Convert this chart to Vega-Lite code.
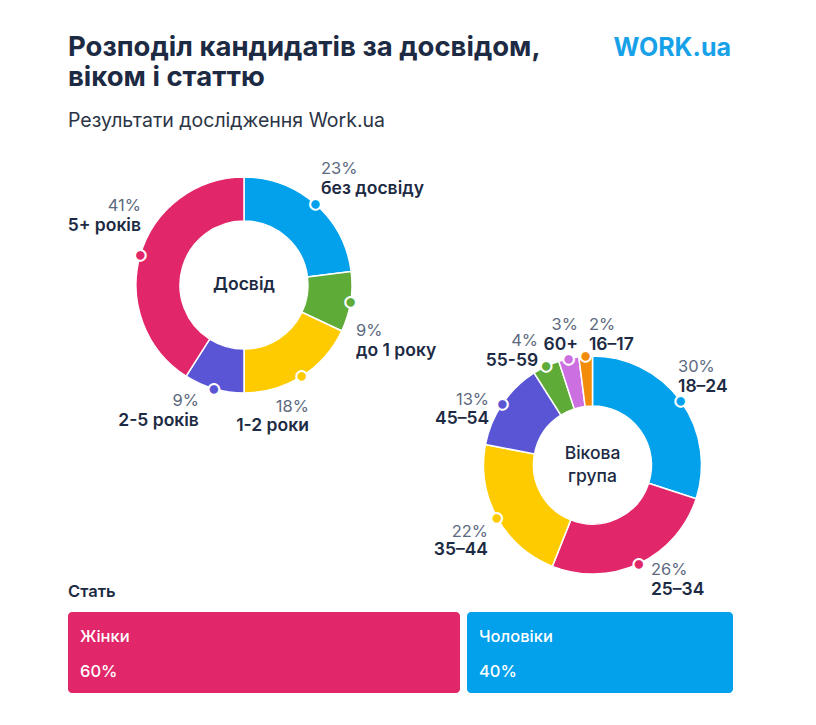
{
  "$schema": "https://vega.github.io/schema/vega-lite/v6.json",
  "padding": {"left": 67, "top": 33, "right": 10, "bottom": 10},
  "background": "#ffffff",
  "config": {"view": {"stroke": null}, "font": "Inter"},
  "spacing": -16,
  "resolve": {"scale": {"color": "independent", "theta": "independent", "x": "independent"}},
  "vconcat": [
    {
      "bounds": "flush",
      "spacing": 0,
      "resolve": {"scale": {"color": "independent", "theta": "independent"}},
      "hconcat": [
        {
          "width": 352,
          "height": 240,
          "title": {
            "text": ["Розподіл кандидатів за досвідом,", "віком і статтю"],
            "subtitle": "Результати дослідження Work.ua",
            "anchor": "start",
            "frame": "group",
            "fontSize": 27.5,
            "fontWeight": "bold",
            "color": "#1d2a43",
            "lineHeight": 30,
            "subtitleFontSize": 19.5,
            "subtitleColor": "#2b3445",
            "subtitleFontWeight": "normal",
            "subtitlePadding": 21,
            "offset": 30
          },
          "data": {
            "values": [
              {"i": 1, "cat": "без досвіду", "share": 0.23},
              {"i": 2, "cat": "до 1 року", "share": 0.09},
              {"i": 3, "cat": "1-2 роки", "share": 0.18},
              {"i": 4, "cat": "2-5 років", "share": 0.09},
              {"i": 5, "cat": "5+ років", "share": 0.41}
            ]
          },
          "layer": [
            {
              "mark": {"type": "arc", "innerRadius": 64, "outerRadius": 108, "stroke": "#ffffff", "strokeWidth": 1.5},
              "encoding": {
                "theta": {"field": "share", "type": "quantitative", "stack": true},
                "order": {"field": "i", "type": "quantitative"},
                "color": {
                  "field": "cat", "type": "nominal", "legend": null,
                  "scale": {
                    "domain": ["без досвіду", "до 1 року", "1-2 роки", "2-5 років", "5+ років"],
                    "range": ["#03a0ec", "#5eab38", "#fecb00", "#5a55d5", "#e2266a"]
                  }
                }
              }
            },
            {
              "mark": {"type": "text", "text": "●", "font": "DejaVu Sans", "radius": 108, "fontSize": 14, "stroke": "#ffffff", "strokeWidth": 2, "align": "center", "baseline": "middle"},
              "encoding": {
                "theta": {"field": "share", "type": "quantitative", "stack": true},
                "order": {"field": "i", "type": "quantitative"},
                "color": {"field": "cat", "type": "nominal", "legend": null}
              }
            },
            {
              "mark": {
                "type": "text", "radius": 108, "fontSize": 16.5, "color": "#5d6980", "baseline": "alphabetic",
                "align": {"expr": "indexof(['без досвіду','до 1 року'], datum.cat) >= 0 ? 'left' : 'right'"},
                "dx": {"expr": "{'без досвіду': 5.6, 'до 1 року': 5.3, '1-2 роки': 7, '2-5 років': -15, '5+ років': 0.7}[datum.cat]"},
                "dy": {"expr": "{'без досвіду': -30, 'до 1 року': 34, '1-2 роки': 36, '2-5 років': 17, '5+ років': -44}[datum.cat]"}
              },
              "encoding": {
                "theta": {"field": "share", "type": "quantitative", "stack": true},
                "order": {"field": "i", "type": "quantitative"},
                "detail": {"field": "cat", "type": "nominal"},
                "text": {"field": "share", "type": "quantitative", "format": ".0%"}
              }
            },
            {
              "mark": {
                "type": "text", "radius": 108, "fontSize": 17.5, "fontWeight": 600, "color": "#1d2a43", "baseline": "alphabetic",
                "align": {"expr": "indexof(['без досвіду','до 1 року'], datum.cat) >= 0 ? 'left' : 'right'"},
                "dx": {"expr": "{'без досвіду': 5.6, 'до 1 року': 5.3, '1-2 роки': 7, '2-5 років': -15, '5+ років': 0.7}[datum.cat]"},
                "dy": {"expr": "{'без досвіду': -10, 'до 1 року': 54, '1-2 роки': 55, '2-5 років': 37, '5+ років': -24}[datum.cat]"}
              },
              "encoding": {
                "theta": {"field": "share", "type": "quantitative", "stack": true},
                "order": {"field": "i", "type": "quantitative"},
                "detail": {"field": "cat", "type": "nominal"},
                "text": {"field": "cat", "type": "nominal"}
              }
            },
            {
              "data": {"values": [{"t": "Досвід"}]},
              "mark": {"type": "text", "fontSize": 17.5, "fontWeight": 600, "color": "#1d2a43", "baseline": "middle", "align": "center"},
              "encoding": {"text": {"field": "t", "type": "nominal"}}
            }
          ]
        },
        {
          "bounds": "flush",
          "spacing": 0,
          "resolve": {"scale": {"color": "independent", "theta": "independent"}},
          "vconcat": [
            {
              "width": 311,
              "height": 180,
              "title": {
                "text": "WORK.ua",
                "anchor": "end",
                "fontSize": 25,
                "fontWeight": "bold",
                "color": "#17a1e8",
                "offset": 104
              },
              "data": {"values": []},
              "mark": "point"
            },
            {
              "width": 345,
              "height": 240,
              "data": {
                "values": [
                  {"i": 1, "cat": "18–24", "share": 0.30},
                  {"i": 2, "cat": "25–34", "share": 0.26},
                  {"i": 3, "cat": "35–44", "share": 0.22},
                  {"i": 4, "cat": "45–54", "share": 0.13},
                  {"i": 5, "cat": "55-59", "share": 0.04},
                  {"i": 6, "cat": "60+", "share": 0.03},
                  {"i": 7, "cat": "16–17", "share": 0.02}
                ]
              },
              "layer": [
                {
                  "mark": {"type": "arc", "innerRadius": 59, "outerRadius": 109, "stroke": "#ffffff", "strokeWidth": 1.5},
                  "encoding": {
                    "theta": {"field": "share", "type": "quantitative", "stack": true},
                    "order": {"field": "i", "type": "quantitative"},
                    "color": {
                      "field": "cat", "type": "nominal", "legend": null,
                      "scale": {
                        "domain": ["18–24", "25–34", "35–44", "45–54", "55-59", "60+", "16–17"],
                        "range": ["#03a0ec", "#e2266a", "#fecb00", "#5a55d5", "#5eab38", "#cc6fe0", "#f28c0a"]
                      }
                    }
                  }
                },
                {
                  "mark": {"type": "text", "text": "●", "font": "DejaVu Sans", "radius": 109, "fontSize": 14, "stroke": "#ffffff", "strokeWidth": 2, "align": "center", "baseline": "middle"},
                  "encoding": {
                    "theta": {"field": "share", "type": "quantitative", "stack": true},
                    "order": {"field": "i", "type": "quantitative"},
                    "color": {"field": "cat", "type": "nominal", "legend": null}
                  }
                },
                {
                  "mark": {
                    "type": "text", "radius": 109, "fontSize": 16.5, "color": "#5d6980", "baseline": "alphabetic",
                    "align": {"expr": "indexof(['18–24','16–17','25–34'], datum.cat) >= 0 ? 'left' : 'right'"},
                    "dx": {"expr": "{'18–24': -2.7, '16–17': 3.3, '60+': 9.3, '55-59': -8, '45–54': -13.3, '35–44': -9, '25–34': 12}[datum.cat]"},
                    "dy": {"expr": "{'18–24': -29.4, '16–17': -26.7, '60+': -29, '55-59': -20, '45–54': 1, '35–44': 19, '25–34': 11}[datum.cat]"}
                  },
                  "encoding": {
                    "theta": {"field": "share", "type": "quantitative", "stack": true},
                    "order": {"field": "i", "type": "quantitative"},
                    "detail": {"field": "cat", "type": "nominal"},
                    "text": {"field": "share", "type": "quantitative", "format": ".0%"}
                  }
                },
                {
                  "mark": {
                    "type": "text", "radius": 109, "fontSize": 17.5, "fontWeight": 600, "color": "#1d2a43", "baseline": "alphabetic",
                    "align": {"expr": "indexof(['18–24','16–17','25–34'], datum.cat) >= 0 ? 'left' : 'right'"},
                    "dx": {"expr": "{'18–24': -2.7, '16–17': 3.3, '60+': 9.3, '55-59': -8, '45–54': -13.3, '35–44': -9, '25–34': 12}[datum.cat]"},
                    "dy": {"expr": "{'18–24': -9.4, '16–17': -6.7, '60+': -9, '55-59': 0, '45–54': 20, '35–44': 37, '25–34': 31}[datum.cat]"}
                  },
                  "encoding": {
                    "theta": {"field": "share", "type": "quantitative", "stack": true},
                    "order": {"field": "i", "type": "quantitative"},
                    "detail": {"field": "cat", "type": "nominal"},
                    "text": {"field": "cat", "type": "nominal"}
                  }
                },
                {
                  "data": {"values": [{"t": ["Вікова", "група"]}]},
                  "mark": {"type": "text", "fontSize": 17.5, "fontWeight": 500, "color": "#1d2a43", "baseline": "middle", "align": "center", "lineHeight": 23, "dy": -11},
                  "encoding": {"text": {"field": "t", "type": "nominal"}}
                }
              ]
            }
          ]
        }
      ]
    },
    {
      "width": 665,
      "height": 81,
      "title": {
        "text": "Стать",
        "anchor": "start",
        "fontSize": 16.5,
        "fontWeight": 600,
        "color": "#1d2a43",
        "offset": 12
      },
      "data": {
        "values": [
          {"i": 1, "sex": "Жінки", "share": 0.6},
          {"i": 2, "sex": "Чоловіки", "share": 0.4}
        ]
      },
      "transform": [
        {"stack": "share", "groupby": [], "as": ["s0", "s1"], "sort": [{"field": "i", "order": "ascending"}]}
      ],
      "layer": [
        {
          "mark": {"type": "rect", "cornerRadius": 4, "x2Offset": {"expr": "datum.sex == 'Жінки' ? -7 : 0"}},
          "encoding": {
            "x": {"field": "s0", "type": "quantitative", "scale": {"domain": [0, 1]}, "axis": null},
            "x2": {"field": "s1"},
            "color": {
              "field": "sex", "type": "nominal", "legend": null,
              "scale": {"domain": ["Жінки", "Чоловіки"], "range": ["#e2266a", "#03a0ec"]}
            }
          }
        },
        {
          "mark": {"type": "text", "align": "left", "baseline": "alphabetic", "dx": 12, "dy": -11, "fontSize": 16.5, "fontWeight": 500, "color": "#ffffff"},
          "encoding": {
            "x": {"field": "s0", "type": "quantitative"},
            "text": {"field": "sex", "type": "nominal"}
          }
        },
        {
          "mark": {"type": "text", "align": "left", "baseline": "alphabetic", "dx": 12, "dy": 24, "fontSize": 16.5, "fontWeight": 500, "color": "#ffffff"},
          "encoding": {
            "x": {"field": "s0", "type": "quantitative"},
            "text": {"field": "share", "type": "quantitative", "format": ".0%"}
          }
        }
      ]
    }
  ]
}
